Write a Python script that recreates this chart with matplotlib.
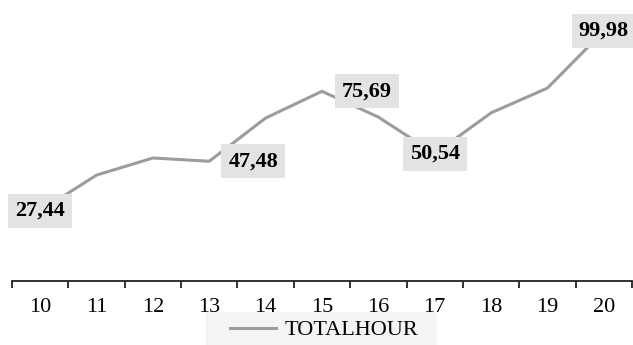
import matplotlib.pyplot as plt
from matplotlib.patches import Rectangle

# Số liệu tổng số giờ theo từng mốc
hours = ['10', '11', '12', '13', '14', '15', '16', '17', '18', '19', '20']
total_hour = [27.44, 41.9, 48.8, 47.48, 64.9, 75.69, 65.3, 50.54, 67.0, 77.0, 99.98]

# Các điểm có nhãn giá trị và độ lệch của nhãn (pixel)
label_idx = [0, 3, 5, 7, 10]
label_dx = [0, 44, 45, 0, 0]

plt.rcParams['font.family'] = ['Liberation Serif', 'DejaVu Serif']

fig = plt.figure(figsize=(6.33, 3.45), dpi=100)
ax = fig.add_axes([12 / 633, 1 - 281 / 345, 620 / 633, 281 / 345])

x = list(range(len(hours)))
line, = ax.plot(x, total_hour, color='#9c9c9c', linewidth=2.2, label='TOTALHOUR')

for i, dx in zip(label_idx, label_dx):
    val = total_hour[i]
    ax.annotate(f'{val:.2f}'.replace('.', ','), xy=(x[i], val),
                xytext=(dx * 0.72, 0), textcoords='offset points',
                ha='center', va='center', fontsize=16, fontweight='bold',
                color='black', zorder=5,
                bbox=dict(boxstyle='square,pad=0.32', facecolor='#e3e3e3',
                          edgecolor='none'))

ax.set_xlim(-0.5, len(hours) - 0.5)
ax.set_ylim(-0.8, 112.5)

ax.set_xticks(x)
ax.set_xticklabels(hours, fontsize=16)
ax.set_xticks([i - 0.5 for i in range(len(hours) + 1)], minor=True)
ax.tick_params(axis='x', which='major', length=0, pad=12)
ax.tick_params(axis='x', which='minor', length=5, width=1.3, color='#222222',
               direction='out')
ax.set_yticks([])

for s in ['left', 'right', 'top']:
    ax.spines[s].set_visible(False)
ax.spines['bottom'].set_color('#222222')
ax.spines['bottom'].set_linewidth(1.3)

# nền xám nhạt cho chú thích
fig.patches.append(Rectangle((206 / 633, 0), 231 / 633, 33 / 345,
                             transform=fig.transFigure, facecolor='#f4f4f4',
                             edgecolor='none', zorder=0))
leg = fig.legend(handles=[line], loc='center',
                 bbox_to_anchor=(324 / 633, 1 - 330 / 345),
                 fontsize=16, frameon=False,
                 handlelength=2.1, handletextpad=0.36, borderpad=0.2)

plt.savefig('out.png', dpi=100)
